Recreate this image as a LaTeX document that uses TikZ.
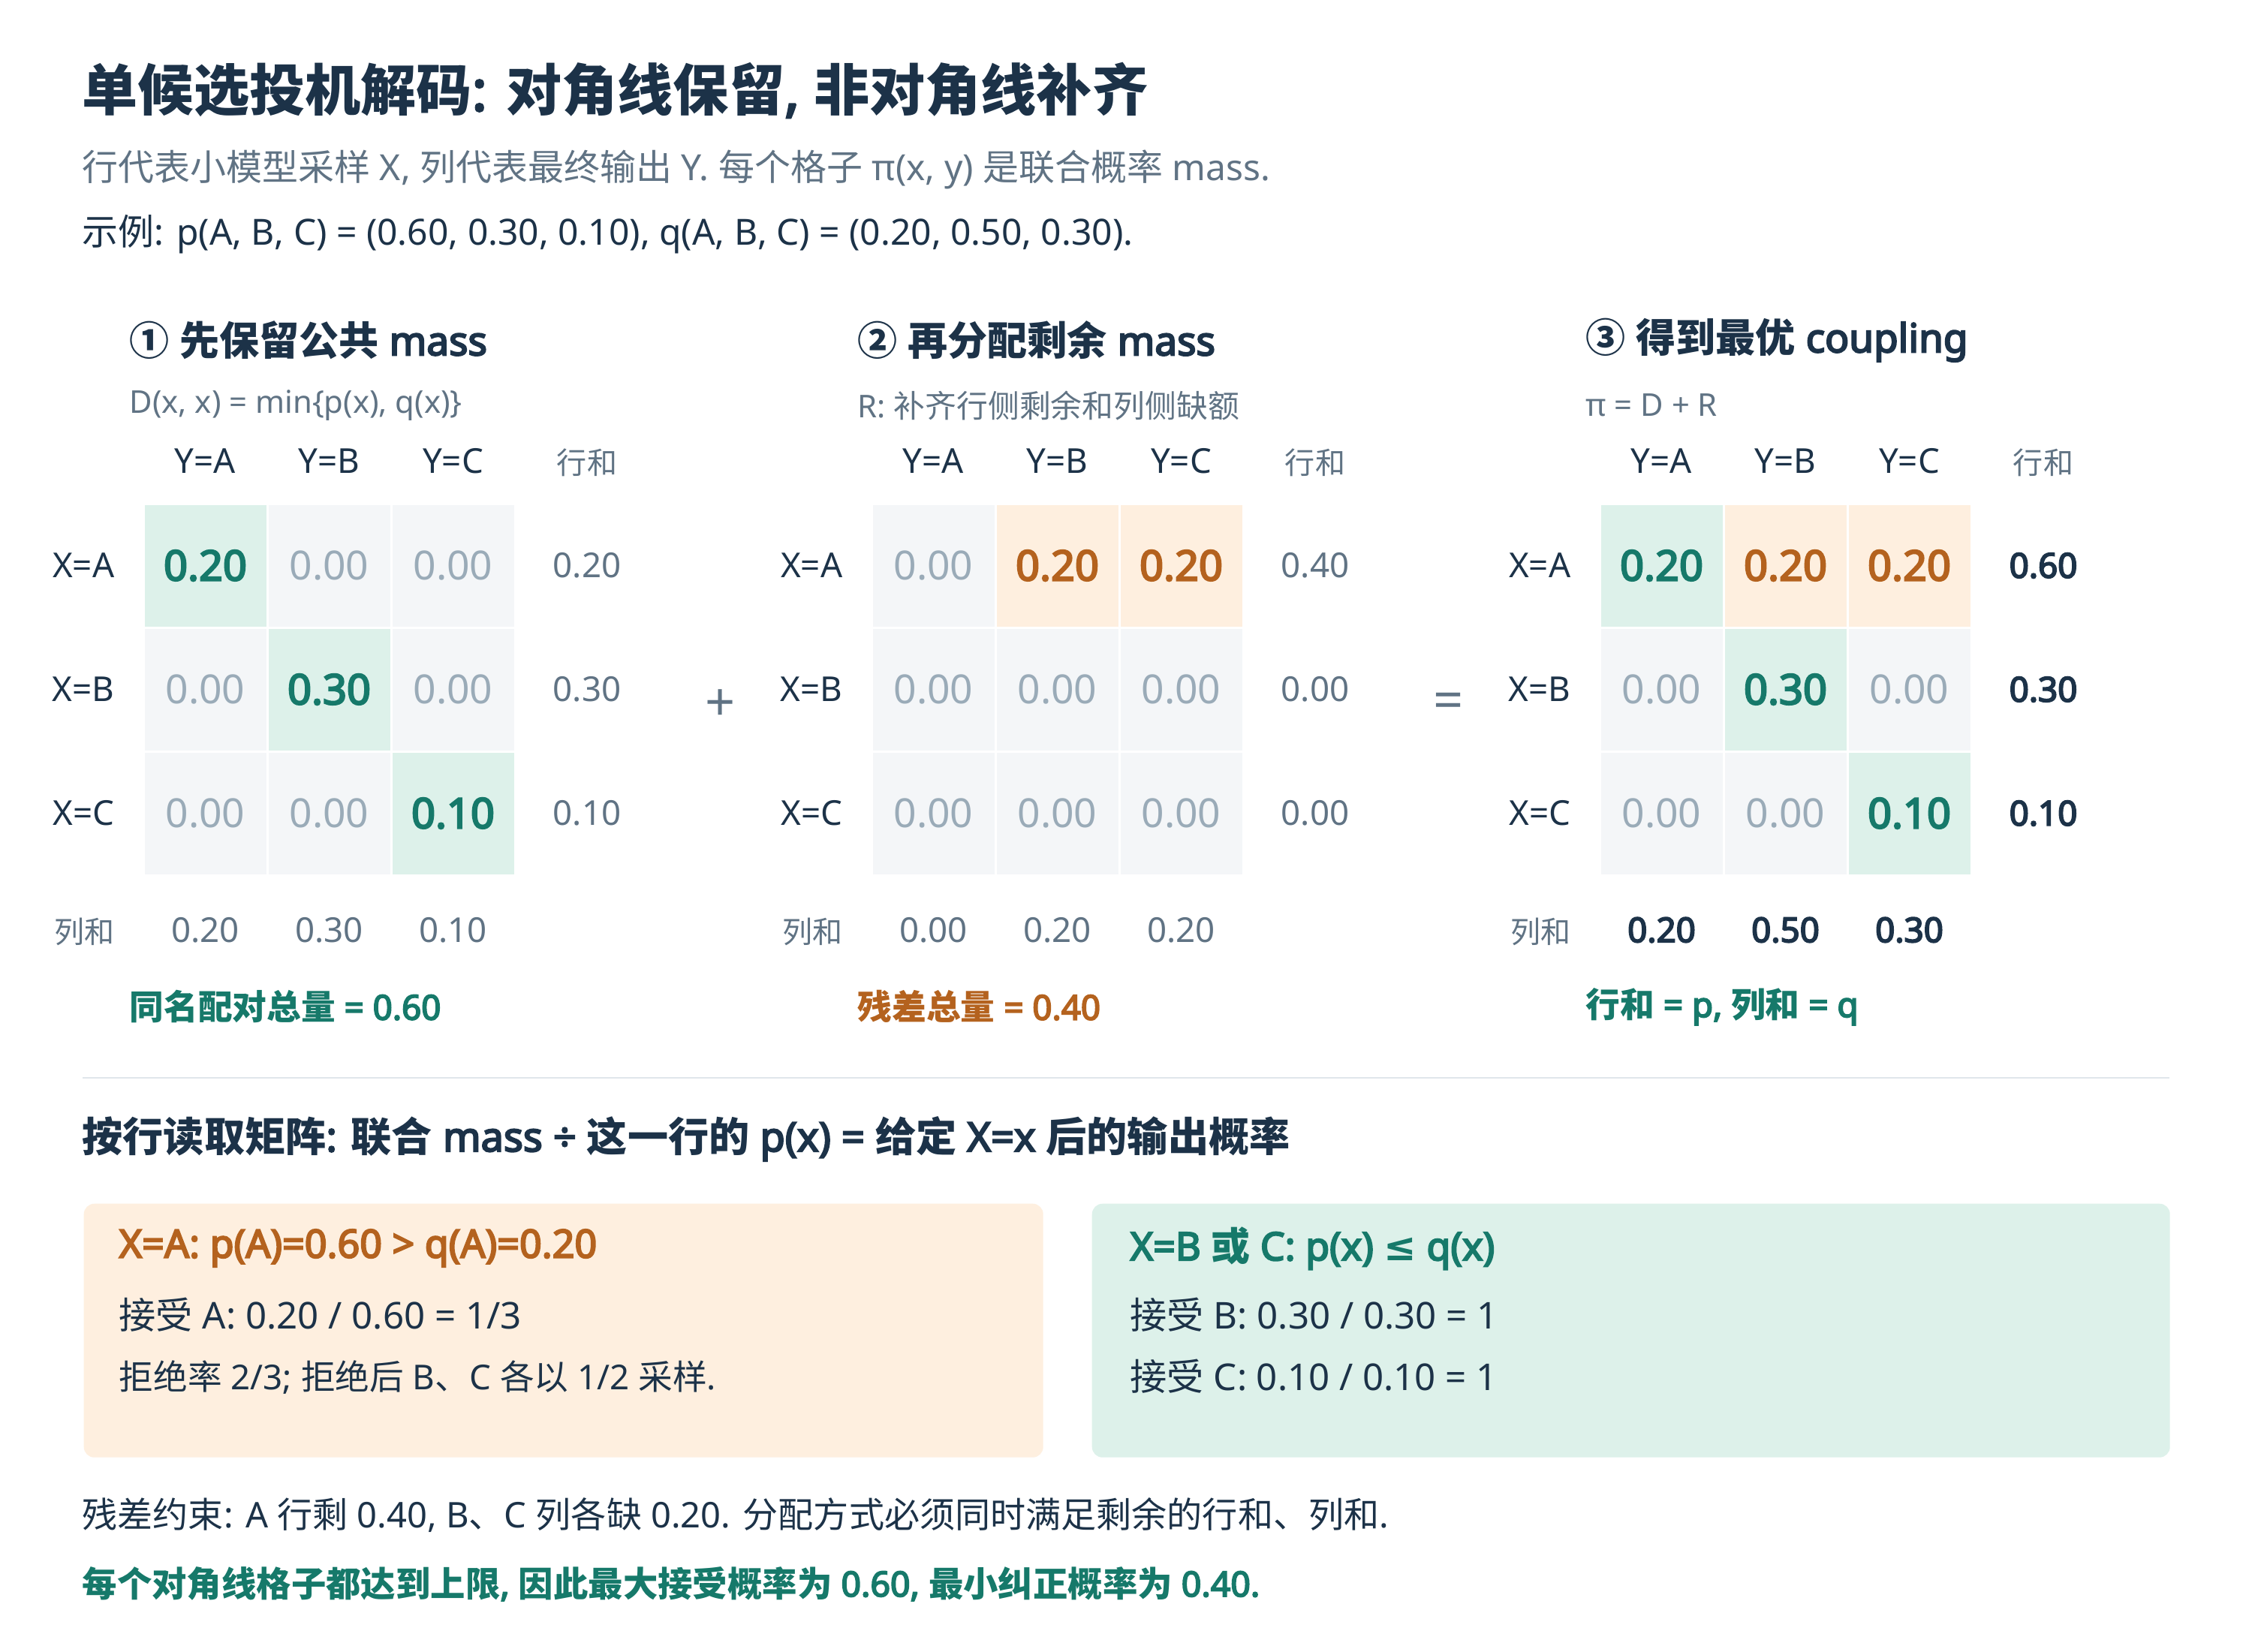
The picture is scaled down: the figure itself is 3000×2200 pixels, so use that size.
\documentclass[tikz,border=0pt]{standalone}
\usepackage{fontspec}
\setmainfont{Noto Sans}[BoldFont={Noto Sans}, BoldFeatures={FakeBold=4}]
\newfontfamily\cjkfont{Noto Sans CJK SC}
\newfontfamily\symfont{DejaVu Sans}

% Han characters, 、 and circled digits go to the CJK face
\newcount\hanchar
\hanchar="4E00
\loop
  \XeTeXcharclass\hanchar=7
  \advance\hanchar by 1
\ifnum\hanchar<"A000 \repeat
\XeTeXcharclass"3001=7
\XeTeXcharclass"2460=7
\XeTeXcharclass"2461=7
\XeTeXcharclass"2462=7
\XeTeXinterchartoks 0 7 = {\cjkfont}
\XeTeXinterchartoks 4095 7 = {\cjkfont}
\XeTeXinterchartoks 7 0 = {\rmfamily}
\XeTeXinterchartoks 7 4095 = {\rmfamily}

\definecolor{ink}{HTML}{1C3248}
\definecolor{mute}{HTML}{607384}
\definecolor{faint}{HTML}{9AABB8}
\definecolor{keep}{HTML}{16796A}
\definecolor{move}{HTML}{B4621E}
\definecolor{keepbg}{HTML}{DDF1EA}
\definecolor{movebg}{HTML}{FEEFDF}
\definecolor{zerobg}{HTML}{F4F6F8}
\definecolor{rulegray}{HTML}{E0E6EB}

\begin{document}
\XeTeXinterchartokenstate=1
\begin{tikzpicture}[x=0.1mm, y=-0.1mm,
  txt/.style={inner sep=0pt, anchor=west, text=ink, font=\fontsize{13.65}{16}\selectfont},
  heading/.style={txt, font=\bfseries\fontsize{15.1}{18}\selectfont},
  subhd/.style={txt, text=mute, font=\fontsize{11.9}{14}\selectfont},
  note/.style={txt, font=\bfseries\fontsize{13}{16}\selectfont},
  cardhd/.style={txt, font=\bfseries\fontsize{14.8}{18}\selectfont},
  lab/.style={inner sep=0pt, text=ink, font=\fontsize{13}{16}\selectfont},
  sumlab/.style={lab, text=mute},
  sumhd/.style={sumlab, font=\fontsize{11.4}{14}\selectfont},
  total/.style={lab, font=\bfseries\fontsize{13}{16}\selectfont},
  cell/.style={minimum size=16.5mm, draw=white, line width=0.3mm, inner sep=0pt},
  zc/.style={cell, fill=zerobg, text=faint, font=\fontsize{15.2}{18}\selectfont},
  dc/.style={cell, fill=keepbg, text=keep, font=\bfseries\fontsize{15.9}{18}\selectfont},
  rc/.style={cell, fill=movebg, text=move, font=\bfseries\fontsize{15.9}{18}\selectfont},
  op/.style={inner sep=0pt, text=mute, font=\fontsize{20}{24}\selectfont},
  card/.style={anchor=north west, inner sep=0pt, rounded corners=1.4mm}]

\fill[white] (0,0) rectangle (3000,2200);

% title and intro
\node[txt, font=\bfseries\fontsize{21.1}{25}\selectfont] (title) at (109,120) {单候选投机解码: 对角线保留, 非对角线补齐};
\node[txt, text=mute] (intro) at (109,226) {行代表小模型采样 X, 列代表最终输出 Y. 每个格子 π(x, y) 是联合概率 mass.};
\node[txt] (example) at (109,312) {示例: p(A, B, C) = (0.60, 0.30, 0.10), q(A, B, C) = (0.20, 0.50, 0.30).};

% labels shared by the three panels
\foreach \k in {0,1,2}{
  \pgfmathsetmacro\L{191+970*\k}
  \foreach \n/\t in {1/A,2/B,3/C}{
    \node[lab] (ylab\k\n) at (\L+165*\n-82.5, 614) {Y=\t};
    \node[lab, anchor=east] (xlab\k\n) at (\L-38, 588.5+165*\n) {X=\t};
  }
  \node[sumhd] (rowhd\k) at (\L+591, 616) {行和};
  \node[sumhd, anchor=east] (colhd\k) at (\L-38, 1241) {列和};
}

% panel 1: D
\node[heading] (dhead) at (172,453) {① 先保留公共 mass};
\node[subhd] (dsub) at (172,540) {D(x, x) = min\{p(x), q(x)\}};
\foreach \r/\c/\s/\v in {1/1/dc/0.20, 1/2/zc/0.00, 1/3/zc/0.00,
                         2/1/zc/0.00, 2/2/dc/0.30, 2/3/zc/0.00,
                         3/1/zc/0.00, 3/2/zc/0.00, 3/3/dc/0.10}
  \node[\s] (d\r\c) at (108.5+165*\c, 588.5+165*\r) {\v};
\foreach \n/\v in {1/0.20,2/0.30,3/0.10}{
  \node[sumlab] (drs\n) at (782, 588.5+165*\n) {\v};
  \node[sumlab] (dcs\n) at (108.5+165*\n, 1239) {\v};
}
\node[note, text=keep] (dnote) at (172,1341) {同名配对总量 = 0.60};

\node[op] (plus) at (960,940) {+};

% panel 2: R
\node[heading] (rhead) at (1142,453) {② 再分配剩余 mass};
\node[subhd] (rsub) at (1142,540) {R: 补齐行侧剩余和列侧缺额};
\foreach \r/\c/\s/\v in {1/1/zc/0.00, 1/2/rc/0.20, 1/3/rc/0.20,
                         2/1/zc/0.00, 2/2/zc/0.00, 2/3/zc/0.00,
                         3/1/zc/0.00, 3/2/zc/0.00, 3/3/zc/0.00}
  \node[\s] (r\r\c) at (1078.5+165*\c, 588.5+165*\r) {\v};
\foreach \n/\v/\w in {1/0.40/0.00,2/0.00/0.20,3/0.00/0.20}{
  \node[sumlab] (rrs\n) at (1752, 588.5+165*\n) {\v};
  \node[sumlab] (rcs\n) at (1078.5+165*\n, 1239) {\w};
}
\node[note, text=move] (rnote) at (1142,1341) {残差总量 = 0.40};

\node[op] (equals) at (1930,940) {=};

% panel 3: pi
\node[heading] (phead) at (2112,453) {③ 得到最优 coupling};
\node[subhd] (psub) at (2112,540) {π = D + R};
\foreach \r/\c/\s/\v in {1/1/dc/0.20, 1/2/rc/0.20, 1/3/rc/0.20,
                         2/1/zc/0.00, 2/2/dc/0.30, 2/3/zc/0.00,
                         3/1/zc/0.00, 3/2/zc/0.00, 3/3/dc/0.10}
  \node[\s] (p\r\c) at (2048.5+165*\c, 588.5+165*\r) {\v};
\foreach \n/\v/\w in {1/0.60/0.20,2/0.30/0.50,3/0.10/0.30}{
  \node[total] (prs\n) at (2722, 588.5+165*\n) {\v};
  \node[total] (pcs\n) at (2048.5+165*\n, 1239) {\w};
}
\node[note, text=keep] (pnote) at (2112,1341) {行和 = p, 列和 = q};

% reading the rows
\draw[rulegray, line width=0.25mm] (110,1436) -- (2890,1436);
\node[txt, font=\bfseries\fontsize{15.4}{18}\selectfont] (readhd) at (109,1517) {按行读取矩阵: 联合 mass ÷ 这一行的 p(x) = 给定 X=x 后的输出概率};

\node[card, fill=movebg, minimum width=127.8mm, minimum height=33.8mm] (cardA) at (111,1603) {};
\node[cardhd, text=move] (cardAt) at (158,1663) {X=A: p(A)=0.60 > q(A)=0.20};
\node[txt, font=\fontsize{14}{17}\selectfont] (cardA1) at (158,1752) {接受 A: 0.20 / 0.60 = 1/3};
\node[txt, font=\fontsize{13}{16}\selectfont] (cardA2) at (158,1835) {拒绝率 2/3; 拒绝后 B、C 各以 1/2 采样.};

\node[card, fill=keepbg, minimum width=143.6mm, minimum height=33.8mm] (cardBC) at (1454,1603) {};
\node[cardhd, text=keep] (cardBCt) at (1505,1663) {X=B 或 C: p(x) {\symfont ≤} q(x)};
\node[txt, font=\fontsize{14}{17}\selectfont] (cardBC1) at (1505,1752) {接受 B: 0.30 / 0.30 = 1};
\node[txt, font=\fontsize{14}{17}\selectfont] (cardBC2) at (1505,1834) {接受 C: 0.10 / 0.10 = 1};

% closing lines
\node[txt, font=\fontsize{13.4}{16}\selectfont] (residual) at (109,2018) {残差约束: A 行剩 0.40, B、C 列各缺 0.20. 分配方式必须同时满足剩余的行和、列和.};
\node[note, text=keep, font=\bfseries\fontsize{13.2}{16}\selectfont] (summary) at (109,2110) {每个对角线格子都达到上限, 因此最大接受概率为 0.60, 最小纠正概率为 0.40.};
\end{tikzpicture}
\end{document}
